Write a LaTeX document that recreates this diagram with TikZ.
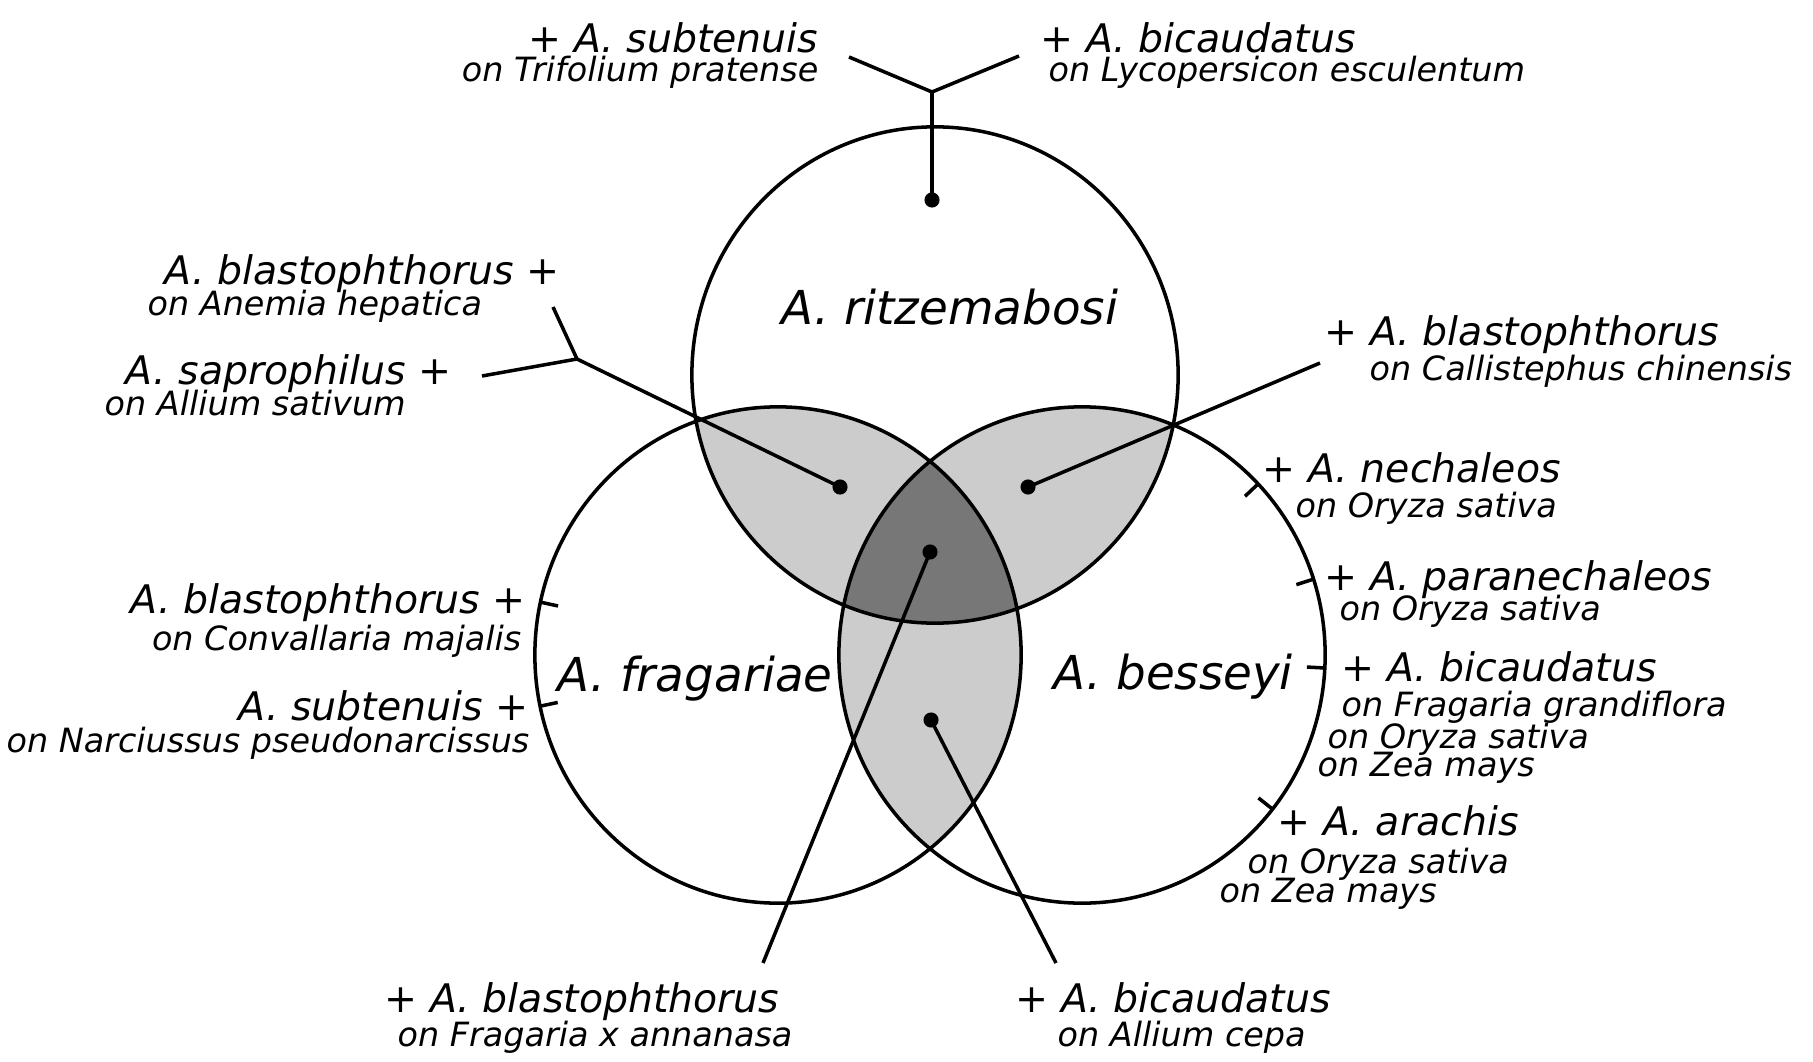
\documentclass[tikz,border=0pt]{standalone}
\usepackage{fontspec}
\setmainfont{DejaVu Sans}
\usetikzlibrary{calc}
\definecolor{lg}{RGB}{204,204,204}
\definecolor{dg}{RGB}{119,119,119}
\tikzset{wire/.style={line width=1pt},
 dot/.style={circle,fill,inner sep=0pt,minimum size=4.3pt},
 ell/.style={x radius=2.43cm,y radius=2.48cm},
 sp/.style={inner sep=0pt,font=\fontsize{11.2}{13}\selectfont\itshape},
 ho/.style={inner sep=0pt,font=\fontsize{9.5}{11}\selectfont\itshape},
 big/.style={inner sep=0pt,font=\fontsize{13.3}{16}\selectfont\itshape}}
\begin{document}
\begin{tikzpicture}[x=.01cm,y=-.01cm]
\useasboundingbox (0,0) rectangle (1813,1061);
\coordinate (T) at (935,375);\coordinate (L) at (778,655);\coordinate (R) at (1082,655);
\begin{scope}\clip (T) ellipse[ell];\fill[lg] (L) ellipse[ell] (R) ellipse[ell];\end{scope}
\begin{scope}\clip (L) ellipse[ell];\fill[lg] (R) ellipse[ell];\end{scope}
\begin{scope}\clip (T) ellipse[ell];\clip (L) ellipse[ell];\fill[dg] (R) ellipse[ell];\end{scope}
\draw[wire] (T) ellipse[ell] (L) ellipse[ell] (R) ellipse[ell];
\foreach \c/\a in {L/167.7,L/191.9,R/43.6,R/17.8,R/-3,R/-38.4}
 \draw[wire] ($(\c)+(\a:2.43cm and 2.48cm)$)--($(\c)+(\a:2.25cm and 2.30cm)$);
\node[dot] (dT) at (932,200) {};\node[dot] (dTL) at (840,487) {};
\node[dot] (dTR) at (1028,487) {};\node[dot] (dC) at (930,552) {};
\node[dot] (dLR) at (931,720) {};
\coordinate (ya) at (849,57);\coordinate (yb) at (1019,56);\coordinate (yc) at (932,92);
\draw[wire] (ya)--(yc)--(yb);\draw[wire] (yc)--(dT.center);
\coordinate (xa) at (553,307);\coordinate (xb) at (482,376);\coordinate (xc) at (577,359);
\draw[wire] (xa)--(xc)--(xb);\draw[wire] (xc)--(dTL.center);
\coordinate (ra) at (1320,363);\draw[wire] (ra)--(dTR.center);
\coordinate (ba) at (763,963);\draw[wire] (ba)--(dC.center);
\coordinate (bb) at (1056,963);\draw[wire] (bb)--(dLR.center);
\node[big,anchor=base west] (ritz) at (781,324) {A. ritzemabosi};
\node[big,anchor=base west] (frag) at (557,691) {A. fragariae};
\node[big,anchor=base west] (bess) at (1053,689) {A. besseyi};
\node[sp,anchor=base east] (subT) at (819,53) {+ A. subtenuis};
\node[ho,anchor=base east] (subTon) at (819,82) {on Trifolium pratense};
\node[sp,anchor=base west] (bicT) at (1040,53) {+ A. bicaudatus};
\node[ho,anchor=base west] (bicTon) at (1048,82) {on Lycopersicon esculentum};
\node[sp,anchor=base east] (blaA) at (560,285) {A. blastophthorus +};
\node[ho,anchor=base west] (blaAon) at (147,316) {on Anemia hepatica};
\node[sp,anchor=base east] (sap) at (452,384) {A. saprophilus +};
\node[ho,anchor=base west] (sapon) at (104,415) {on Allium sativum};
\node[sp,anchor=base west] (blaC) at (1324,345) {+ A. blastophthorus};
\node[ho,anchor=base west] (blaCon) at (1369,380) {on Callistephus chinensis};
\node[sp,anchor=base west] (nec) at (1262,482) {+ A. nechaleos};
\node[ho,anchor=base west] (necon) at (1295,517) {on Oryza sativa};
\node[sp,anchor=base west] (par) at (1324,590) {+ A. paranechaleos};
\node[ho,anchor=base west] (paron) at (1339,620) {on Oryza sativa};
\node[sp,anchor=base west] (bicB) at (1341,681) {+ A. bicaudatus};
\node[ho,anchor=base west] (bicBa) at (1341,716) {on Fragaria grandiflora};
\node[ho,anchor=base west] (bicBb) at (1327,748) {on Oryza sativa};
\node[ho,anchor=base west] (bicBc) at (1317,776) {on Zea mays};
\node[sp,anchor=base west] (ara) at (1277,835) {+ A. arachis};
\node[ho,anchor=base west] (araa) at (1247,873) {on Oryza sativa};
\node[ho,anchor=base west] (arab) at (1219,902) {on Zea mays};
\node[sp,anchor=base east] (blaV) at (526,613) {A. blastophthorus +};
\node[ho,anchor=base east] (blaVon) at (522,650) {on Convallaria majalis};
\node[sp,anchor=base east] (subN) at (529,720) {A. subtenuis +};
\node[ho,anchor=base east] (subNon) at (530,752) {on Narciussus pseudonarcissus};
\node[sp,anchor=base west] (blaF) at (384,1012) {+ A. blastophthorus};
\node[ho,anchor=base west] (blaFon) at (397,1046) {on Fragaria x annanasa};
\node[sp,anchor=base west] (bicA) at (1015,1012) {+ A. bicaudatus};
\node[ho,anchor=base west] (bicAon) at (1057,1046) {on Allium cepa};
\end{tikzpicture}
\end{document}
